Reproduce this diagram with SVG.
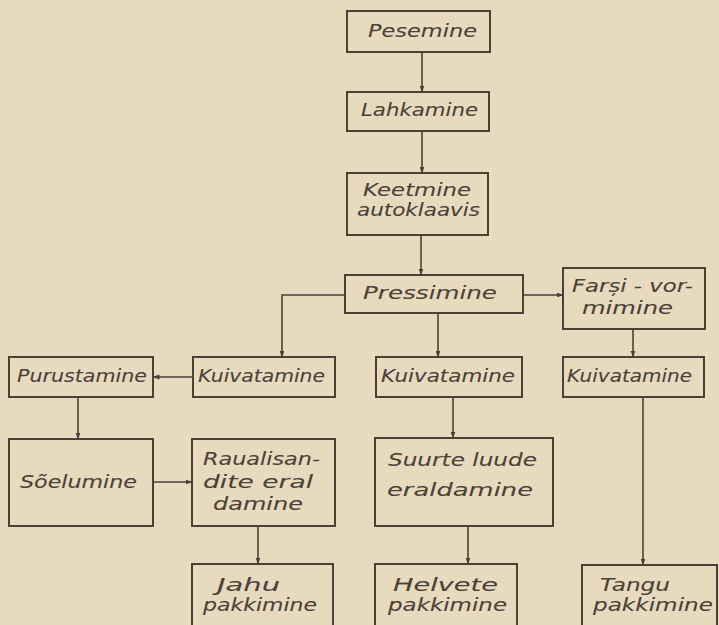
<svg xmlns="http://www.w3.org/2000/svg" width="719" height="625" viewBox="0 0 719 625">
  <defs>
    <marker id="arrow" markerWidth="7" markerHeight="6" refX="6.5" refY="3" orient="auto" markerUnits="userSpaceOnUse">
      <path d="M0,0.5 L7,3 L0,5.5 Z" fill="#4a4137"/>
    </marker>
    <style>
      .box { fill: none; stroke: #4a4137; stroke-width: 2; }
      .edge { fill: none; stroke: #4a4137; stroke-width: 1.6; marker-end: url(#arrow); }
      text { font-family: "DejaVu Sans", "Liberation Sans", sans-serif; font-style: italic; font-size: 18px; fill: #4a4137; stroke: #4a4137; stroke-width: 0.1; }
      .two { font-size: 17px; }
    </style>
  </defs>

  <rect x="0" y="0" width="719" height="625" fill="#e7dabf"/>

  <!-- process boxes -->
  <g id="pesemine">
    <rect class="box" x="347" y="11" width="143" height="41"/>
    <text x="368" y="37" textLength="109" lengthAdjust="spacingAndGlyphs">Pesemine</text>
  </g>
  <g id="lahkamine">
    <rect class="box" x="347" y="92" width="142" height="39"/>
    <text x="361" y="116" textLength="117" lengthAdjust="spacingAndGlyphs">Lahkamine</text>
  </g>
  <g id="keetmine">
    <rect class="box" x="347" y="173" width="141" height="62"/>
    <text class="two" x="363" y="196" textLength="108" lengthAdjust="spacingAndGlyphs">Keetmine</text>
    <text class="two" x="357" y="216" textLength="123" lengthAdjust="spacingAndGlyphs">autoklaavis</text>
  </g>
  <g id="pressimine">
    <rect class="box" x="345" y="275" width="178" height="38"/>
    <text x="363" y="299" textLength="134" lengthAdjust="spacingAndGlyphs">Pressimine</text>
  </g>
  <g id="farsi-vormimine">
    <rect class="box" x="563" y="268" width="142" height="61"/>
    <text class="two" x="572" y="292" textLength="121" lengthAdjust="spacingAndGlyphs">Farși - vor-</text>
    <text class="two" x="582" y="314" textLength="91" lengthAdjust="spacingAndGlyphs">mimine</text>
  </g>
  <g id="purustamine">
    <rect class="box" x="9" y="357" width="144" height="40"/>
    <text x="17" y="382" textLength="130" lengthAdjust="spacingAndGlyphs">Purustamine</text>
  </g>
  <g id="kuivatamine-1">
    <rect class="box" x="193" y="357" width="142" height="40"/>
    <text x="198" y="382" textLength="127" lengthAdjust="spacingAndGlyphs">Kuivatamine</text>
  </g>
  <g id="kuivatamine-2">
    <rect class="box" x="376" y="357" width="146" height="40"/>
    <text x="381" y="382" textLength="134" lengthAdjust="spacingAndGlyphs">Kuivatamine</text>
  </g>
  <g id="kuivatamine-3">
    <rect class="box" x="563" y="357" width="141" height="40"/>
    <text x="567" y="382" textLength="125" lengthAdjust="spacingAndGlyphs">Kuivatamine</text>
  </g>
  <g id="soelumine">
    <rect class="box" x="9" y="439" width="144" height="87"/>
    <text x="20" y="488" textLength="117" lengthAdjust="spacingAndGlyphs">Sõelumine</text>
  </g>
  <g id="raualisandite-eraldamine">
    <rect class="box" x="192" y="439" width="143" height="87"/>
    <text class="two" x="203" y="465" textLength="117" lengthAdjust="spacingAndGlyphs">Raualisan-</text>
    <text class="two" x="203" y="488" textLength="110" lengthAdjust="spacingAndGlyphs">dite eral</text>
    <text class="two" x="213" y="510" textLength="90" lengthAdjust="spacingAndGlyphs">damine</text>
  </g>
  <g id="suurte-luude-eraldamine">
    <rect class="box" x="375" y="438" width="178" height="88"/>
    <text x="388" y="466" textLength="149" lengthAdjust="spacingAndGlyphs">Suurte luude</text>
    <text x="387" y="496" textLength="146" lengthAdjust="spacingAndGlyphs">eraldamine</text>
  </g>
  <g id="jahu-pakkimine">
    <rect class="box" x="192" y="564" width="141" height="70"/>
    <text class="two" x="217" y="591" textLength="63" lengthAdjust="spacingAndGlyphs">Jahu</text>
    <text class="two" x="203" y="611" textLength="114" lengthAdjust="spacingAndGlyphs">pakkimine</text>
  </g>
  <g id="helvete-pakkimine">
    <rect class="box" x="375" y="564" width="142" height="70"/>
    <text class="two" x="393" y="591" textLength="105" lengthAdjust="spacingAndGlyphs">Helvete</text>
    <text class="two" x="388" y="611" textLength="119" lengthAdjust="spacingAndGlyphs">pakkimine</text>
  </g>
  <g id="tangu-pakkimine">
    <rect class="box" x="582" y="565" width="135" height="70"/>
    <text class="two" x="600" y="591" textLength="70" lengthAdjust="spacingAndGlyphs">Tangu</text>
    <text class="two" x="593" y="611" textLength="120" lengthAdjust="spacingAndGlyphs">pakkimine</text>
  </g>

  <!-- flow connectors -->
  <g id="connectors">
    <path class="edge" d="M422,52 V92"/>
    <path class="edge" d="M422,131 V173"/>
    <path class="edge" d="M421,235 V275"/>
    <path class="edge" d="M523,295 H563"/>
    <path class="edge" d="M345,295 H282 V357"/>
    <path class="edge" d="M438,313 V357"/>
    <path class="edge" d="M633,329 V357"/>
    <path class="edge" d="M193,377 H153"/>
    <path class="edge" d="M78,397 V439"/>
    <path class="edge" d="M153,482 H192"/>
    <path class="edge" d="M258,526 V564"/>
    <path class="edge" d="M453,397 V438"/>
    <path class="edge" d="M468,526 V564"/>
    <path class="edge" d="M643,397 V565"/>
  </g>
</svg>
